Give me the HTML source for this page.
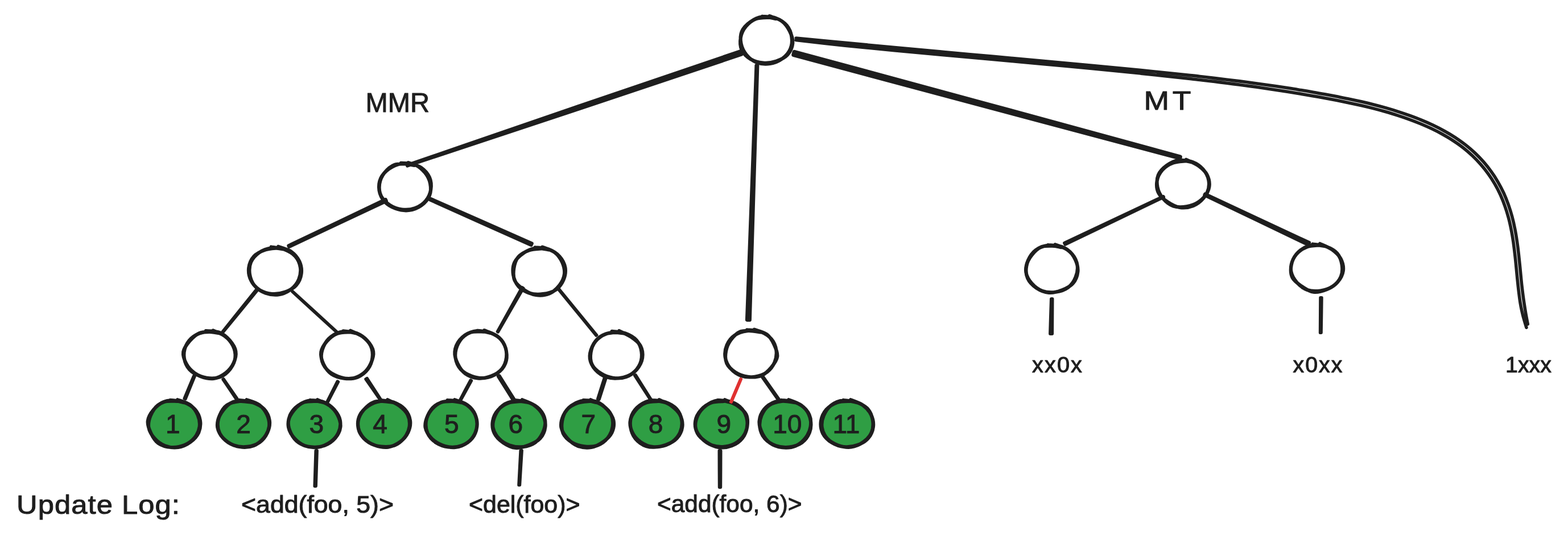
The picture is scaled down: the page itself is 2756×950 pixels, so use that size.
<!DOCTYPE html>
<html lang="en">
<head>
<meta charset="utf-8">
<title>MMR / MT update log diagram</title>
<style>
html,body{margin:0;padding:0;background:#fff;}
body{width:2756px;height:950px;}
svg{display:block;}
text{font-family:"Liberation Sans",sans-serif;fill:#1e1e1e;stroke:#1e1e1e;stroke-width:1px;stroke-linejoin:round;paint-order:stroke fill;}
svg{will-change:transform;}
</style>
</head>
<body>
<svg width="2756" height="950" viewBox="0 0 2756 950">
<rect width="2756" height="950" fill="#ffffff"/>
<polygon points="1301.3,89.9 1008.2,189.6 715.4,290.4 715.9,291.8 1009.8,194.4 1303.4,95.9" fill="#1e1e1e" stroke="#1e1e1e" stroke-width="5.6" stroke-linejoin="round"/>
<polygon points="1329.6,115.2 1321.4,338.9 1313.1,562.7 1317.7,562.9 1324.4,339.1 1331.2,115.2" fill="#1e1e1e" stroke="#1e1e1e" stroke-width="6.4" stroke-linejoin="round"/>
<polygon points="1395,96.4 1734.2,187.4 2073.6,277.9 2074.1,276.1 1735.3,183.6 1396.3,91.6" fill="#1e1e1e" stroke="#1e1e1e" stroke-width="7.6" stroke-linejoin="round"/>
<path d="M1398.9 70.5C1413.3 72.1 1456.5 77.1 1485.3 80.1C1514.1 83.1 1543 85.9 1571.9 88.7C1600.7 91.5 1629.6 94.1 1658.5 96.7C1687.4 99.4 1716.3 101.9 1745.1 104.5C1774 107.2 1802.9 109.7 1831.8 112.4C1860.7 115.1 1889.5 117.7 1918.4 120.5C1947.3 123.3 1976.1 126.2 2004.9 129.1C2033.8 132.1 2073.4 136.5 2091.4 138.5C2109.4 140.4 2105.8 140.1 2113 141C2120.3 141.8 2127.5 142.7 2134.7 143.5C2141.9 144.4 2149.1 145.3 2156.3 146.2C2163.5 147.1 2170.7 148.1 2177.9 149C2185.1 150 2192.3 150.9 2199.5 151.9C2206.7 152.9 2213.8 153.9 2221 155C2228.2 156 2235.4 157.1 2242.6 158.2C2249.7 159.3 2256.9 160.4 2264.1 161.5C2271.2 162.7 2278.4 163.8 2285.5 165C2292.7 166.2 2299.8 167.4 2307 168.7C2314.1 170 2321.3 171.2 2328.4 172.5C2335.5 173.9 2342.7 175.2 2349.8 176.6C2356.9 178 2364 179.4 2371.1 180.9C2378.2 182.4 2385.3 183.9 2392.4 185.5C2399.4 187.1 2406.5 188.8 2413.5 190.6C2420.5 192.4 2427.5 194.3 2434.4 196.3C2441.4 198.3 2448.3 200.3 2455.2 202.6C2462.1 204.8 2469 207.1 2475.8 209.6C2482.7 212.1 2489.5 214.7 2496.2 217.5C2502.9 220.3 2509.6 223.2 2516.2 226.3C2522.7 229.4 2529.2 232.7 2535.5 236.2C2541.8 239.7 2548.1 243.4 2554 247.4C2560 251.3 2565.9 255.4 2571.5 259.8C2577.1 264.2 2582.5 268.9 2587.7 273.7C2592.9 278.6 2597.8 283.8 2602.5 289.1C2607.2 294.4 2611.6 300 2615.8 305.8C2619.9 311.5 2623.8 317.5 2627.3 323.6C2630.9 329.7 2634.1 336.1 2637.1 342.5C2640 349 2642.7 355.6 2645 362.4C2647.4 369.1 2649.5 376 2651.4 383C2653.3 389.9 2654.8 397 2656.2 404.1C2657.7 411.2 2658.8 418.3 2659.9 425.6C2660.9 432.8 2661.8 440 2662.6 447.3C2663.5 454.6 2664.2 461.9 2664.9 469.2C2665.6 476.5 2666.3 483.8 2667 491.1C2667.8 498.4 2668.5 505.7 2669.4 512.9C2670.3 520.1 2671.1 527.4 2672.4 534.5C2673.6 541.7 2675.2 548.7 2676.9 555.7C2678.7 562.6 2681.9 572.8 2682.9 576.2 M1399.2 67.1C1413.6 68.5 1456.9 72.7 1485.8 75.4C1514.6 78.2 1543.5 80.9 1572.4 83.5C1601.2 86.2 1630.1 88.9 1659 91.5C1687.9 94.2 1716.7 96.7 1745.6 99.4C1774.5 102 1803.4 104.6 1832.3 107.2C1861.1 109.9 1890 112.5 1918.9 115.3C1947.8 118 1976.6 120.7 2005.5 123.6C2034.4 126.5 2074 130.7 2092 132.6C2110.1 134.5 2106.5 134.2 2113.7 135C2120.9 135.9 2128.2 136.7 2135.4 137.6C2142.6 138.4 2149.8 139.3 2157 140.2C2164.3 141.1 2171.5 142 2178.7 142.9C2185.9 143.8 2193.1 144.8 2200.3 145.7C2207.5 146.7 2214.7 147.7 2221.9 148.7C2229.1 149.7 2236.3 150.8 2243.5 151.8C2250.7 152.9 2257.9 154 2265.1 155.1C2272.3 156.2 2279.4 157.4 2286.6 158.6C2293.8 159.7 2301 160.9 2308.1 162.2C2315.3 163.4 2322.5 164.7 2329.6 166C2336.8 167.4 2343.9 168.7 2351.1 170.1C2358.2 171.5 2365.4 172.9 2372.5 174.4C2379.6 175.9 2386.7 177.5 2393.8 179.1C2400.9 180.7 2408 182.4 2415.1 184.2C2422.2 186 2429.2 187.9 2436.3 189.9C2443.3 191.9 2450.3 194 2457.3 196.3C2464.2 198.5 2471.2 200.9 2478.1 203.4C2485 205.9 2491.9 208.5 2498.7 211.4C2505.6 214.2 2512.4 217.2 2519 220.3C2525.7 223.5 2532.3 226.9 2538.7 230.5C2545.2 234 2551.5 237.8 2557.7 241.8C2563.8 245.9 2569.8 250.1 2575.6 254.6C2581.3 259.1 2586.9 263.9 2592.2 268.9C2597.6 274 2602.7 279.3 2607.5 284.7C2612.3 290.2 2616.9 296 2621.1 301.9C2625.4 307.8 2629.4 314 2633 320.3C2636.7 326.6 2640 333.1 2643.1 339.8C2646.1 346.4 2648.8 353.3 2651.3 360.2C2653.7 367.1 2655.9 374.2 2657.8 381.3C2659.7 388.4 2661.3 395.6 2662.7 402.8C2664.2 410 2665.3 417.3 2666.4 424.6C2667.5 431.9 2668.4 439.2 2669.2 446.5C2670 453.9 2670.7 461.2 2671.5 468.5C2672.2 475.8 2672.9 483.1 2673.6 490.4C2674.3 497.7 2675.1 504.9 2676 512.1C2676.8 519.3 2677.9 526.4 2678.9 533.5C2680 540.5 2681.2 548.4 2682.3 554.5C2683.4 560.6 2684.8 567.6 2685.3 570.2" fill="none" stroke="#1e1e1e" stroke-width="5.6" stroke-linecap="round" stroke-linejoin="round"/>
<polygon points="677.6,351.2 592.5,391.8 507.5,432.4 508.2,433.9 593.5,393.7 678.7,353.5" fill="#1e1e1e" stroke="#1e1e1e" stroke-width="6.4" stroke-linejoin="round"/>
<polygon points="755.6,351 844.6,391 933.5,430.9 934.6,428.5 845.4,389 756.2,349.6" fill="#1e1e1e" stroke="#1e1e1e" stroke-width="6.4" stroke-linejoin="round"/>
<polygon points="451.5,508.3 421.3,545.9 391.1,583.6 392.1,584.4 422.7,547.1 453.3,509.7" fill="#1e1e1e" stroke="#1e1e1e" stroke-width="5.2" stroke-linejoin="round"/>
<polygon points="513.4,513.1 552.6,548.9 591.8,584.8 592.6,583.9 553.4,548.1 514.2,512.2" fill="#1e1e1e" stroke="#1e1e1e" stroke-width="4.8" stroke-linejoin="round"/>
<polygon points="917.5,505.6 895.9,544.5 874.2,583.4 875.3,584.1 897.6,545.5 919.9,507" fill="#1e1e1e" stroke="#1e1e1e" stroke-width="5.2" stroke-linejoin="round"/>
<polygon points="980.1,507.4 1014,548.9 1047.9,590.4 1048.9,589.6 1015,548.1 981.1,506.6" fill="#1e1e1e" stroke="#1e1e1e" stroke-width="5" stroke-linejoin="round"/>
<polygon points="340.8,661.3 332.5,681.2 324.2,701 325.9,701.8 334,681.8 342.1,661.9" fill="#1e1e1e" stroke="#1e1e1e" stroke-width="5.6" stroke-linejoin="round"/>
<polygon points="391.9,667.5 403.6,684.9 415.3,702.4 416.8,701.3 404.9,684.1 393,666.8" fill="#1e1e1e" stroke="#1e1e1e" stroke-width="5.2" stroke-linejoin="round"/>
<polygon points="593,670.9 583.8,689.1 574.6,707.4 575.8,708 585.2,689.9 594.6,671.7" fill="#1e1e1e" stroke="#1e1e1e" stroke-width="5.2" stroke-linejoin="round"/>
<polygon points="642.8,666.9 655.4,685.1 668,703.2 669.1,702.5 657.1,683.9 645.1,665.4" fill="#1e1e1e" stroke="#1e1e1e" stroke-width="5.2" stroke-linejoin="round"/>
<polygon points="827,668.9 817.8,686.1 808.7,703.4 809.8,704 819.2,686.9 828.6,669.7" fill="#1e1e1e" stroke="#1e1e1e" stroke-width="5.2" stroke-linejoin="round"/>
<polygon points="876,662.1 888.8,682.4 901.6,702.7 903,701.9 890.2,681.6 877.4,661.3" fill="#1e1e1e" stroke="#1e1e1e" stroke-width="6.4" stroke-linejoin="round"/>
<polygon points="1063.3,663.8 1057.2,682.8 1051.2,701.7 1052.7,702.2 1058.8,683.2 1064.8,664.3" fill="#1e1e1e" stroke="#1e1e1e" stroke-width="6.4" stroke-linejoin="round"/>
<polygon points="1115.6,660.7 1129.3,681.9 1143.1,703.2 1144.1,702.5 1130.7,681.1 1117.2,659.7" fill="#1e1e1e" stroke="#1e1e1e" stroke-width="5.2" stroke-linejoin="round"/>
<polygon points="1340,663.7 1353.9,683.4 1367.8,703.1 1369,702.3 1355.1,682.6 1341.2,662.9" fill="#1e1e1e" stroke="#1e1e1e" stroke-width="5.6" stroke-linejoin="round"/>
<polygon points="555.4,793 554.4,824 553.4,855 554.9,855 555.9,824 556.9,793" fill="#1e1e1e" stroke="#1e1e1e" stroke-width="6" stroke-linejoin="round"/>
<polygon points="915.2,792.7 913.6,823 912,853.2 913.4,853.2 915.2,823 917.1,792.8" fill="#1e1e1e" stroke="#1e1e1e" stroke-width="5.6" stroke-linejoin="round"/>
<polygon points="1264.5,793 1264.6,825 1264.8,857 1266.2,857 1266.4,825 1266.5,793" fill="#1e1e1e" stroke="#1e1e1e" stroke-width="6" stroke-linejoin="round"/>
<polygon points="2044.7,345.6 1957.8,386.5 1870.9,427.5 1872.2,430.1 1958.7,388.5 2045.3,346.8" fill="#1e1e1e" stroke="#1e1e1e" stroke-width="5.6" stroke-linejoin="round"/>
<polygon points="2117.5,343.1 2208.4,386.7 2299.3,430.3 2300.9,427 2209.6,384.3 2118.2,341.6" fill="#1e1e1e" stroke="#1e1e1e" stroke-width="6.4" stroke-linejoin="round"/>
<polygon points="1848,526 1847,556.5 1846.1,587 1849.1,587 1849.3,556.5 1849.5,526" fill="#1e1e1e" stroke="#1e1e1e" stroke-width="6" stroke-linejoin="round"/>
<polygon points="2321,523.8 2320.8,554.5 2320.6,585.2 2322,585.2 2322.5,554.5 2322.9,523.8" fill="#1e1e1e" stroke="#1e1e1e" stroke-width="5.6" stroke-linejoin="round"/>
<path d="M1339.8 28.9C1343.8 29.4 1356.6 29.2 1363.7 31.8C1370.9 34.5 1378.3 39.3 1382.9 44.8C1387.5 50.3 1390.4 58 1391.4 64.8C1392.5 71.7 1391.9 79.6 1389.2 86C1386.5 92.4 1381.1 98.8 1375.2 103.1C1369.2 107.5 1361.2 110.9 1353.6 112C1346.1 113.2 1336.9 112.5 1329.9 109.9C1322.9 107.2 1316.3 101.6 1311.8 96.1C1307.2 90.6 1304 83.7 1302.6 76.9C1301.3 70.1 1301.1 61.9 1303.7 55.6C1306.4 49.2 1312.4 43 1318.5 38.7C1324.5 34.4 1332.5 30.5 1339.9 29.6C1347.4 28.6 1359.4 32.4 1363.3 33M1352.5 28.2C1356.2 29.8 1368.6 32.9 1374.6 37.4C1380.5 41.8 1384.9 48.6 1388.1 55C1391.2 61.4 1394 69.1 1393.3 76C1392.7 82.9 1389 91.1 1384.2 96.4C1379.3 101.7 1371.3 105.3 1364.2 107.7C1357 110.1 1348.9 111.2 1341.5 110.6C1334 110 1325.6 107.8 1319.3 104C1313 100.2 1306.6 93.9 1303.7 87.6C1300.8 81.2 1300.7 72.8 1301.9 66C1303.1 59.1 1306.5 52 1311 46.6C1315.5 41.1 1322.1 35.7 1329 33.1C1335.9 30.5 1348.3 31.1 1352.2 30.7" fill="none" stroke="#1e1e1e" stroke-width="6.2" stroke-linejoin="round" stroke-linecap="round"/>
<path d="M704.8 286.8C708.8 287.3 721.8 286.7 728.8 289.5C735.8 292.3 742.2 298.1 746.8 303.6C751.3 309.1 754.7 316 756.1 322.8C757.4 329.5 757.5 337.7 754.9 344.1C752.3 350.6 746.5 357.2 740.5 361.5C734.5 365.8 726.2 369.1 718.6 370C711.1 370.9 702.4 369.4 695.3 366.9C688.2 364.3 680.8 360 676 354.7C671.2 349.3 667.6 341.8 666.5 335C665.4 328.1 666.3 320 669.2 313.6C672.1 307.3 677.8 301.3 683.8 297C689.8 292.8 697.6 289.1 705 288.1C712.5 287.1 724.4 290.4 728.3 290.9M717.5 286.1C721.3 287.6 733.8 290.3 740 294.7C746.3 299 752 305.6 754.9 312.1C757.8 318.6 758.3 326.9 757.2 333.8C756.1 340.7 752.8 348.1 748.1 353.5C743.5 358.9 736.4 363.7 729.4 366.2C722.5 368.7 713.8 369.4 706.5 368.5C699.1 367.6 691.3 364.7 685.2 360.8C679.1 356.8 673 351.1 669.9 345C666.9 338.8 666.1 330.7 667 323.9C668 317.1 671.2 309.9 675.6 304.2C680 298.5 686.6 292.4 693.5 289.8C700.4 287.2 713.2 288.8 717.2 288.6" fill="none" stroke="#1e1e1e" stroke-width="6.2" stroke-linejoin="round" stroke-linecap="round"/>
<path d="M2072.1 281.4C2076.1 282 2088.7 282.1 2095.8 284.9C2102.9 287.6 2109.8 292.4 2114.6 297.8C2119.3 303.2 2123.2 310.4 2124.4 317.2C2125.6 324 2124.7 332.3 2121.8 338.6C2118.9 344.9 2113 350.9 2107 355C2101 359.2 2093.2 362.1 2085.7 363.3C2078.3 364.5 2069.2 364.9 2062.2 362.5C2055.2 360 2048.4 354.3 2043.8 348.8C2039.2 343.3 2035.9 336.3 2034.5 329.5C2033.2 322.6 2033.1 314.3 2035.8 307.9C2038.5 301.6 2044.6 295.5 2050.7 291.1C2056.8 286.8 2064.7 282.8 2072.2 281.9C2079.7 281 2091.7 284.9 2095.6 285.5M2084.8 280.7C2088.3 282.5 2099.8 286.8 2105.9 291.2C2112 295.6 2118.2 300.8 2121.4 307.1C2124.6 313.3 2126.4 321.6 2125.4 328.5C2124.4 335.4 2120.3 342.7 2115.6 348.2C2110.9 353.8 2104.2 359.2 2097.2 362C2090.2 364.8 2081 366 2073.5 364.9C2066.1 363.8 2058.6 359.6 2052.4 355.4C2046.3 351.3 2039.6 346 2036.5 339.9C2033.3 333.7 2032.5 325.2 2033.6 318.4C2034.7 311.6 2038.4 304.2 2043.1 298.9C2047.8 293.6 2054.8 289.2 2061.7 286.6C2068.6 284 2080.7 283.8 2084.5 283.2" fill="none" stroke="#1e1e1e" stroke-width="6.2" stroke-linejoin="round" stroke-linecap="round"/>
<path d="M476.5 434.5C480.4 435.2 492.8 436.1 499.9 438.8C507 441.5 514.3 445.6 519 450.9C523.7 456.2 526.9 463.7 527.9 470.5C528.9 477.2 527.8 484.9 525.2 491.3C522.5 497.7 517.6 504.2 511.8 508.6C506 513.1 497.9 517 490.4 518.2C482.9 519.3 473.8 518.1 466.6 515.5C459.4 512.9 452 508 447.4 502.6C442.8 497.1 440 489.4 438.9 482.6C437.9 475.7 438.3 467.7 441 461.4C443.7 455 449.4 448.7 455.4 444.5C461.3 440.4 469.4 437.3 476.8 436.3C484.3 435.3 496.1 438.2 500 438.6M489.2 433.8C492.9 435.3 505.4 438.2 511.6 442.5C517.8 446.9 523.3 453.4 526.3 459.9C529.3 466.5 530.6 474.6 529.6 481.6C528.7 488.6 525.4 496.5 520.6 501.8C515.9 507.2 508.1 511.2 501 513.7C493.9 516.2 485.6 517.6 478.1 517C470.5 516.3 462.1 513.8 455.9 509.8C449.7 505.8 444.1 499.3 441 492.9C437.8 486.5 436.4 478.4 437.2 471.4C438.1 464.4 441.4 456.4 446.2 451.1C451 445.7 459 442 466.1 439.6C473.2 437.1 485.1 436.9 488.9 436.3" fill="none" stroke="#1e1e1e" stroke-width="6.2" stroke-linejoin="round" stroke-linecap="round"/>
<path d="M940.5 435.3C944.5 435.8 957.2 435.8 964.3 438.4C971.5 441.1 978.8 445.8 983.6 451.2C988.5 456.6 992.3 464.1 993.5 471C994.6 477.9 993.2 486 990.4 492.6C987.5 499.1 982.5 506.1 976.4 510.2C970.4 514.4 961.7 516.3 954.1 517.2C946.5 518.1 938 518 930.8 515.7C923.7 513.4 915.9 508.9 911.2 503.6C906.4 498.2 903.3 490.4 902.1 483.5C901 476.5 901.4 468.2 904.3 461.9C907.2 455.6 913.5 449.8 919.6 445.6C925.6 441.4 933.3 437.5 940.7 436.5C948.1 435.5 960.1 438.9 964 439.4M953.2 434.6C956.8 436.2 969.2 439.6 975 444.1C980.9 448.6 985.4 455.3 988.2 461.6C991 468 992.8 475.5 992 482.2C991.2 488.9 987.8 496 983.5 501.7C979.1 507.4 972.8 513.5 965.8 516.4C958.9 519.3 949.4 520.2 941.9 519C934.4 517.9 926.9 513.8 920.7 509.6C914.5 505.4 907.7 500 904.8 493.8C901.9 487.6 902.2 479.4 903.2 472.4C904.2 465.5 906.3 457.7 910.8 452.3C915.2 446.9 923 442.8 930 440.3C937.1 437.7 949.1 437.7 952.9 437.1" fill="none" stroke="#1e1e1e" stroke-width="6.2" stroke-linejoin="round" stroke-linecap="round"/>
<path d="M1842 431C1846 431.5 1858.8 431.3 1865.9 434C1873 436.7 1880 441.8 1884.6 447.3C1889.3 452.8 1892.6 460.2 1893.6 466.9C1894.6 473.7 1893.2 481.3 1890.5 487.7C1887.9 494.2 1883.4 501.2 1877.6 505.5C1871.8 509.9 1863.3 512.7 1855.8 513.8C1848.2 514.8 1839.2 514.4 1832.1 511.9C1825.1 509.4 1818.3 504 1813.5 498.6C1808.7 493.1 1804.5 486 1803.4 479.2C1802.3 472.5 1804.2 464.6 1807 458.1C1809.8 451.6 1814.4 444.6 1820.2 440.2C1826.1 435.8 1834.6 432.6 1842.2 431.7C1849.7 430.9 1861.6 434.5 1865.5 435.1M1854.7 430.3C1858.4 431.9 1870.8 435.1 1876.7 439.6C1882.6 444 1887.2 450.7 1890.2 457.1C1893.1 463.6 1895.1 471.1 1894.4 478C1893.7 484.9 1890.8 492.9 1886.1 498.3C1881.5 503.7 1873.7 507.6 1866.6 510.4C1859.5 513.1 1851 515.5 1843.4 514.8C1835.8 514.2 1827.5 510.6 1821.3 506.4C1815.1 502.2 1809 496 1806.2 489.6C1803.3 483.2 1803 474.9 1804.2 468.1C1805.4 461.3 1809 454.5 1813.5 448.9C1817.9 443.2 1824 436.9 1830.8 434.2C1837.6 431.6 1850.5 433.1 1854.4 432.8" fill="none" stroke="#1e1e1e" stroke-width="6.2" stroke-linejoin="round" stroke-linecap="round"/>
<path d="M2307.3 429.5C2311.2 430.2 2323.6 431 2330.7 433.7C2337.9 436.4 2345.6 440.3 2350.2 445.6C2354.8 450.9 2357.5 458.6 2358.6 465.5C2359.7 472.3 2359.5 480.3 2356.8 486.6C2354.1 493 2348.5 499.5 2342.6 503.6C2336.6 507.7 2328.4 510.4 2320.9 511.5C2313.5 512.5 2304.6 512.4 2297.6 510C2290.7 507.5 2284.1 502.1 2279.3 496.7C2274.6 491.3 2270.5 484.3 2269.3 477.6C2268.2 471 2269.8 463 2272.6 456.7C2275.5 450.4 2280.6 444.1 2286.4 439.8C2292.2 435.5 2300.1 431.8 2307.5 430.8C2314.9 429.8 2326.9 433.1 2330.8 433.6M2320 428.8C2323.5 430.5 2335.1 434.7 2341.2 439.1C2347.3 443.5 2353.3 448.9 2356.6 455.2C2359.8 461.4 2361.8 469.7 2360.8 476.6C2359.9 483.5 2355.7 491 2350.9 496.4C2346.1 501.9 2339.1 506.3 2332.1 509.2C2325 512.1 2316 514.8 2308.6 513.8C2301.2 512.9 2293.9 507.8 2287.7 503.5C2281.5 499.2 2274.4 494.2 2271.4 488.1C2268.4 481.9 2268.4 473.4 2269.6 466.6C2270.8 459.8 2274.1 452.6 2278.6 447.3C2283.2 441.9 2290 437.1 2296.8 434.5C2303.7 431.8 2315.9 431.9 2319.7 431.3" fill="none" stroke="#1e1e1e" stroke-width="6.2" stroke-linejoin="round" stroke-linecap="round"/>
<path d="M361.8 582.1C365.8 582.5 378.8 582 385.8 584.8C392.8 587.6 399.1 593.3 403.9 598.8C408.6 604.3 413.2 611.2 414.3 617.9C415.4 624.6 413.4 632.6 410.5 638.9C407.6 645.3 402.7 651.5 396.9 656C391.1 660.5 383.2 664.9 375.7 665.9C368.3 666.9 359.5 664.7 352.3 662C345.2 659.4 337.7 655.3 332.9 650C328.2 644.7 324.9 637.1 323.8 630.2C322.7 623.4 323.7 615.4 326.4 609C329.2 602.6 334.4 596 340.4 591.8C346.3 587.6 354.6 584.8 362.1 583.9C369.6 582.9 381.4 585.8 385.3 586.2M374.5 581.4C378 583.1 389.9 587.2 395.7 591.7C401.6 596.2 406.6 602.2 409.5 608.4C412.5 614.7 414.2 622.3 413.4 629C412.7 635.7 409.4 643.1 405 648.8C400.7 654.4 394.1 660.5 387.1 663.1C380.2 665.8 370.9 665.9 363.3 664.8C355.8 663.6 348 660.4 342.1 656.3C336.1 652.1 330.8 646.2 327.5 640C324.2 633.8 321.2 625.6 322.2 619C323.1 612.3 328.6 605.6 333.3 600C338.1 594.5 344 588.5 350.8 585.8C357.6 583.1 370.3 584.2 374.2 583.9" fill="none" stroke="#1e1e1e" stroke-width="6.2" stroke-linejoin="round" stroke-linecap="round"/>
<path d="M603.3 582.4C607.3 583 619.9 583.4 626.9 586.2C633.9 589 640.5 593.8 645.4 599.1C650.3 604.4 655 611.5 656.1 618.2C657.2 624.8 654.7 632.7 651.8 639.2C648.9 645.6 644.5 652.2 638.7 656.7C632.9 661.2 624.7 665.1 617.2 666C609.7 666.9 601 664.7 593.9 662.1C586.8 659.4 579.4 655.5 574.6 650.2C569.7 645 566 637.3 565 630.6C564 623.8 565.9 616 568.7 609.6C571.5 603.2 576.2 596.7 582 592.3C587.8 587.9 596 584.1 603.5 583.2C610.9 582.2 622.9 586 626.8 586.5M616 581.7C619.5 583.5 631.2 587.7 637.1 592.1C643 596.6 648.7 602.3 651.6 608.5C654.5 614.7 655.3 622.5 654.5 629.2C653.7 636 651.1 643.5 646.8 649.2C642.5 654.9 635.6 660.7 628.6 663.5C621.6 666.2 612.5 666.6 604.8 665.7C597.1 664.7 588.5 662.2 582.4 658C576.4 653.8 571.7 646.9 568.6 640.5C565.6 634 563.3 626 564.3 619.3C565.4 612.6 570 605.7 574.7 600.3C579.5 594.9 585.8 589.6 592.7 586.9C599.5 584.3 611.9 584.7 615.7 584.2" fill="none" stroke="#1e1e1e" stroke-width="6.2" stroke-linejoin="round" stroke-linecap="round"/>
<path d="M838.4 581.8C842.4 582.4 854.9 582.8 862 585.5C869.1 588.2 876.5 592.6 881.2 598C885.8 603.3 888.7 610.9 889.9 617.7C891.1 624.6 891 632.7 888.4 639.1C885.8 645.6 880.2 652.3 874.2 656.6C868.2 660.9 859.8 664.1 852.2 664.9C844.7 665.8 836.1 664.2 829 661.6C821.9 659.1 814.4 654.9 809.7 649.6C805 644.3 801.7 636.7 800.6 629.9C799.6 623.1 800.8 615.4 803.4 608.9C806 602.4 810.6 595.3 816.4 590.8C822.3 586.3 830.9 582.8 838.5 582C846 581.2 858 585.3 861.9 585.9M851.1 581.1C854.7 582.7 867 586.1 873 590.6C879 595 884.2 601.4 887 607.7C889.9 614.1 890.9 621.8 890.1 628.7C889.3 635.6 886.7 643.4 882.2 648.9C877.8 654.4 870.3 658.9 863.2 661.7C856.2 664.4 847.4 666.1 839.8 665.3C832.3 664.6 823.6 661.5 817.7 657.2C811.8 652.9 807.5 646 804.4 639.6C801.3 633.2 798.8 625.6 799.4 618.7C800 611.8 803.3 603.9 807.9 598.2C812.5 592.5 819.9 587 827 584.6C834.2 582.2 846.8 583.8 850.8 583.6" fill="none" stroke="#1e1e1e" stroke-width="6.2" stroke-linejoin="round" stroke-linecap="round"/>
<path d="M1075.5 582.8C1079.5 583.4 1092 583.6 1099.2 586.3C1106.4 588.9 1114.1 593.1 1118.8 598.5C1123.5 603.9 1126.5 611.8 1127.5 618.7C1128.6 625.6 1127.7 633.5 1125 639.9C1122.2 646.3 1117 653 1111 657.2C1105.1 661.4 1096.7 664 1089.2 665C1081.7 666 1072.9 665.6 1065.8 663.3C1058.7 660.9 1051.5 656.1 1046.6 650.7C1041.8 645.3 1037.8 637.8 1036.8 631C1035.9 624.2 1037.9 616.4 1040.8 610C1043.7 603.6 1048.5 597 1054.3 592.8C1060.2 588.6 1068.4 585.7 1075.8 584.8C1083.3 583.8 1095.1 586.5 1099 586.9M1088.2 582.1C1091.7 583.9 1102.9 588.5 1109.1 592.8C1115.4 597.1 1122.4 601.9 1125.7 608.1C1129 614.3 1130.1 623 1129.1 629.9C1128 636.9 1124.1 644.3 1119.3 649.9C1114.5 655.4 1107.5 660.6 1100.5 663.1C1093.5 665.6 1084.6 665.9 1077.1 664.8C1069.7 663.8 1062 660.7 1055.9 656.7C1049.8 652.8 1043.4 647.1 1040.5 641C1037.6 634.9 1037.4 626.7 1038.5 620C1039.5 613.2 1042.3 605.9 1046.7 600.5C1051.1 595.1 1058 590.1 1064.9 587.5C1071.8 584.8 1084.1 585.1 1087.9 584.6" fill="none" stroke="#1e1e1e" stroke-width="6.2" stroke-linejoin="round" stroke-linecap="round"/>
<path d="M1313 580.3C1317 580.8 1329.6 580.9 1336.8 583.6C1343.9 586.3 1351.3 590.9 1355.9 596.4C1360.5 601.8 1363.5 609.5 1364.4 616.3C1365.3 623 1364.2 630.7 1361.5 637.1C1358.9 643.4 1354.1 650.1 1348.3 654.4C1342.5 658.7 1334.2 661.6 1326.7 662.7C1319.2 663.9 1310.2 663.7 1303.1 661.3C1296 658.9 1288.8 653.7 1284 648.3C1279.3 642.8 1275.8 635.3 1274.7 628.5C1273.6 621.6 1274.7 613.6 1277.5 607.2C1280.2 600.7 1285.4 593.9 1291.4 589.8C1297.4 585.6 1305.8 583 1313.3 582.1C1320.8 581.3 1332.6 584 1336.5 584.4M1325.7 579.6C1329.4 581.1 1342.2 583.9 1348.1 588.4C1353.9 592.9 1357.8 600.1 1360.8 606.6C1363.8 613.1 1367 620.8 1366.2 627.4C1365.3 634 1360.2 640.8 1355.5 646.4C1350.8 652 1344.9 658 1338.1 660.8C1331.3 663.5 1322.1 663.8 1314.6 662.8C1307 661.9 1299 659.1 1292.8 655.1C1286.5 651.1 1280 645.1 1277.2 638.9C1274.4 632.6 1274.8 624.3 1276.1 617.5C1277.3 610.7 1280.3 603.9 1284.5 598.2C1288.8 592.5 1294.9 585.9 1301.7 583.2C1308.5 580.6 1321.4 582.3 1325.4 582.1" fill="none" stroke="#1e1e1e" stroke-width="6.2" stroke-linejoin="round" stroke-linecap="round"/>
<ellipse cx="306.3" cy="745.8" rx="45.6" ry="41.1" fill="#2f9e44"/>
<path d="M299.3 704C303.3 704.6 315.8 705 322.9 707.6C330.1 710.3 337.6 714.5 342.4 719.9C347.2 725.2 350.7 732.8 351.8 739.6C352.9 746.5 352 754.6 349.2 761C346.3 767.4 340.6 773.5 334.6 777.8C328.6 782.2 320.7 786 313.2 787C305.7 788.1 296.6 786.8 289.6 784.1C282.6 781.4 276 776.3 271.3 770.9C266.6 765.5 262.4 758.5 261.3 751.9C260.2 745.3 262 737.6 264.7 731.1C267.4 724.6 271.6 717.5 277.4 713C283.1 708.5 291.8 705.1 299.4 704.3C307 703.5 318.9 707.5 322.8 708.1M312 703.3C315.7 704.8 328.2 707.9 334.1 712.3C340.1 716.8 344.7 723.6 347.5 730C350.2 736.4 351.6 744 350.7 750.6C349.8 757.3 346.5 764.5 342.1 770C337.6 775.4 330.9 780.4 324 783.2C317.1 786 308.4 787.5 300.8 787C293.1 786.4 284.1 783.9 278.1 779.7C272.2 775.5 268.2 768.1 265.1 761.6C262 755.1 259 747.5 259.8 740.7C260.5 733.9 265 726.6 269.7 721C274.4 715.4 281 709.5 288 707C295 704.4 307.7 706 311.7 705.8" fill="none" stroke="#1e1e1e" stroke-width="6.2" stroke-linejoin="round" stroke-linecap="round"/>
<ellipse cx="427.8" cy="745.8" rx="45.6" ry="41.1" fill="#2f9e44"/>
<path d="M420.8 704C424.7 704.7 437 705.5 444.3 708.1C451.5 710.7 459.3 714.4 464.2 719.6C469.1 724.9 472.7 732.7 473.7 739.6C474.7 746.4 473.1 754.4 470.2 760.8C467.3 767.2 462.4 774 456.4 778.2C450.5 782.4 442 785 434.5 785.9C427 786.8 418.3 786 411.3 783.5C404.3 781.1 397.3 776.4 392.5 771.2C387.6 765.9 383.4 758.7 382.3 752C381.2 745.3 383.1 737.5 385.9 731C388.6 724.5 392.9 717.1 398.8 712.9C404.7 708.8 413.6 706.8 421.1 706C428.7 705.2 440.4 707.7 444.3 708.1M433.5 703.3C437.2 704.8 449.7 707.9 455.6 712.3C461.6 716.8 466.5 723.4 469.4 729.8C472.3 736.2 473.9 744 473 750.7C472.1 757.5 468.4 764.7 463.9 770.2C459.3 775.7 452.7 781.3 445.8 784C438.9 786.7 429.8 787.3 422.3 786.3C414.8 785.3 406.9 782.1 400.9 778C394.8 773.9 389 768 386 761.8C383.1 755.7 382 747.6 383.1 740.9C384.1 734.2 387.8 727.4 392.2 721.8C396.6 716.1 402.7 709.8 409.6 707.2C416.4 704.5 429.3 706.1 433.2 705.8" fill="none" stroke="#1e1e1e" stroke-width="6.2" stroke-linejoin="round" stroke-linecap="round"/>
<ellipse cx="552.3" cy="745.8" rx="45.6" ry="41.1" fill="#2f9e44"/>
<path d="M545.3 704C549.3 704.6 562 704.6 569.1 707.3C576.1 710.1 582.7 715.2 587.5 720.6C592.2 726 596.6 732.9 597.8 739.6C599.1 746.3 597.8 754.6 594.9 760.9C592.1 767.3 586.5 773.5 580.6 777.8C574.6 782.1 566.6 785.6 559.1 786.7C551.6 787.7 542.5 786.8 535.6 784.2C528.6 781.5 522.1 776.2 517.3 770.9C512.6 765.5 508.4 758.6 507.1 751.9C505.9 745.2 506.9 737.1 509.6 730.7C512.4 724.3 517.9 718 523.9 713.6C529.8 709.2 537.9 705.3 545.4 704.4C552.9 703.5 564.9 707.5 568.8 708.1M558 703.3C561.5 705 573.4 709.1 579.2 713.6C585.1 718 590.1 723.9 593.3 730.1C596.5 736.3 599.1 744.1 598.4 750.9C597.7 757.6 593.9 765.3 589.2 770.8C584.5 776.3 577.4 781.3 570.3 783.9C563.2 786.5 554.4 787.3 546.8 786.4C539.3 785.6 530.9 782.8 524.9 778.7C518.9 774.5 514.1 767.9 511.1 761.6C508.1 755.3 506 747.5 506.9 740.8C507.9 734.2 512.1 727.2 516.6 721.7C521.2 716.2 527.4 710.3 534.3 707.7C541.1 705 553.8 706.1 557.7 705.8" fill="none" stroke="#1e1e1e" stroke-width="6.2" stroke-linejoin="round" stroke-linecap="round"/>
<ellipse cx="675.4" cy="745.8" rx="45.6" ry="41.1" fill="#2f9e44"/>
<path d="M668.4 704C672.4 704.6 684.9 705 692 707.6C699.2 710.3 706.6 714.6 711.4 719.9C716.2 725.3 720 732.8 720.9 739.6C721.9 746.4 720.3 754.3 717.3 760.6C714.4 766.9 709.2 773 703.3 777.3C697.4 781.6 689.6 785.6 682.2 786.6C674.8 787.7 666 785.9 659 783.4C651.9 780.8 644.8 776.5 639.9 771.3C635 766 630.8 758.8 629.6 752C628.3 745.2 629.3 736.8 632.3 730.5C635.3 724.2 641.4 718.3 647.4 714.2C653.5 710.2 661.3 707 668.7 706C676.1 704.9 688 707.7 691.9 708.1M681.1 703.3C684.6 705.1 696.1 709.6 702 714C707.9 718.4 713.7 723.9 716.6 730C719.6 736.1 720.5 744 719.6 750.6C718.6 757.3 715.4 764.4 711 769.9C706.6 775.4 700.1 781 693.3 783.7C686.5 786.3 677.5 786.6 670 785.7C662.5 784.9 654.4 782.4 648.2 778.5C642 774.5 636 768.4 632.8 762.2C629.7 755.9 628.5 747.6 629.5 740.8C630.6 734 634.5 726.8 639.1 721.3C643.8 715.7 650.3 709.8 657.2 707.3C664.2 704.7 676.9 706.1 680.8 705.8" fill="none" stroke="#1e1e1e" stroke-width="6.2" stroke-linejoin="round" stroke-linecap="round"/>
<ellipse cx="793.5" cy="745.8" rx="45.6" ry="41.1" fill="#2f9e44"/>
<path d="M786.5 704C790.5 704.5 803.3 704.2 810.4 706.9C817.6 709.5 824.9 714.4 829.5 719.9C834.1 725.4 837 733 838.1 739.8C839.1 746.6 838.3 754.3 835.6 760.7C833 767.1 828.1 773.9 822.2 778.3C816.3 782.7 807.9 786.2 800.4 787C792.9 787.9 784.2 785.8 777.2 783.2C770.2 780.5 763.3 776.2 758.3 771C753.4 765.8 748.7 758.7 747.6 752C746.5 745.4 748.9 737.5 751.8 731C754.6 724.6 759.1 717.7 764.9 713.4C770.7 709.2 779.3 706.4 786.8 705.5C794.3 704.6 806.1 707.7 810 708.1M799.2 703.3C802.8 704.9 815 708.3 821 712.8C827 717.2 832.3 723.5 835.2 729.8C838 736.1 839.1 743.9 838.3 750.7C837.5 757.5 834.7 765.2 830.2 770.7C825.8 776.2 818.5 781.3 811.5 783.9C804.5 786.6 795.6 787.2 788 786.3C780.5 785.5 772.3 782.6 766.2 778.6C760.1 774.5 754.3 768.2 751.5 762C748.6 755.7 747.9 747.6 748.9 740.9C750 734.2 753.3 727.2 757.8 721.6C762.2 716.1 768.7 710.4 775.5 707.8C782.4 705.2 795 706.2 798.9 705.8" fill="none" stroke="#1e1e1e" stroke-width="6.2" stroke-linejoin="round" stroke-linecap="round"/>
<ellipse cx="912.1" cy="745.8" rx="45.6" ry="41.1" fill="#2f9e44"/>
<path d="M905.1 704C909.1 704.6 921.5 705.2 928.7 707.8C935.8 710.5 943.3 714.5 948.2 719.8C953.1 725.1 957.1 732.7 958.1 739.6C959.1 746.4 957.1 754.2 954.2 760.7C951.3 767.2 946.7 774.1 940.8 778.4C935 782.6 926.4 785.3 918.8 786.1C911.3 787 902.7 785.9 895.7 783.4C888.6 781 881.5 776.5 876.7 771.2C871.8 766 867.6 758.7 866.5 752C865.5 745.3 867.5 737.5 870.3 731C873.1 724.6 877.6 717.7 883.5 713.4C889.3 709.1 897.9 706.3 905.4 705.4C912.9 704.6 924.7 707.7 928.6 708.1M917.8 703.3C921.4 705 933.3 708.8 939.3 713.2C945.3 717.6 950.8 723.5 953.9 729.7C957.1 736 959.2 744 958.4 750.9C957.7 757.8 954.3 765.9 949.5 771.2C944.7 776.5 936.9 780.1 929.7 782.9C922.5 785.7 914 788.6 906.4 788C898.9 787.3 890.8 783.2 884.5 778.9C878.3 774.7 872.1 768.8 869 762.4C865.9 756.1 864.8 747.6 866 740.7C867.1 733.8 870.8 726.4 875.6 721.1C880.3 715.7 887.5 711.2 894.5 708.6C901.5 706.1 913.7 706.3 917.5 705.8" fill="none" stroke="#1e1e1e" stroke-width="6.2" stroke-linejoin="round" stroke-linecap="round"/>
<ellipse cx="1032.4" cy="745.8" rx="45.6" ry="41.1" fill="#2f9e44"/>
<path d="M1025.4 704C1029.4 704.5 1042.4 704 1049.4 706.8C1056.3 709.6 1062.5 715.3 1067.3 720.8C1072.2 726.2 1077 732.8 1078.4 739.6C1079.7 746.3 1078.4 754.8 1075.4 761.1C1072.4 767.3 1066.3 772.9 1060.3 777.3C1054.2 781.6 1046.7 785.8 1039.3 787C1031.8 788.3 1022.5 787.3 1015.5 784.6C1008.5 781.9 1002.1 776.5 997.2 771C992.4 765.6 987.6 758.7 986.4 752C985.2 745.4 987.3 737.3 990.2 730.9C993.1 724.5 998.1 718.1 1004 713.7C1009.9 709.4 1018.1 705.8 1025.6 704.9C1033 703.9 1045 707.6 1048.9 708.1M1038.1 703.3C1041.7 705 1053.4 709 1059.4 713.4C1065.5 717.8 1071.4 723.5 1074.3 729.7C1077.2 735.9 1077.7 743.9 1076.7 750.6C1075.7 757.4 1072.8 764.6 1068.4 770.1C1064 775.6 1057.1 781 1050.3 783.6C1043.4 786.1 1034.5 786.3 1027 785.4C1019.5 784.5 1011.5 782.2 1005.3 778.3C999 774.5 992.5 768.5 989.6 762.3C986.8 756 986.9 747.8 988 741C989.1 734.1 991.6 726.5 996.1 721.2C1000.6 715.9 1008.1 711.7 1015 709.2C1022 706.6 1034 706.4 1037.8 705.8" fill="none" stroke="#1e1e1e" stroke-width="6.2" stroke-linejoin="round" stroke-linecap="round"/>
<ellipse cx="1152.9" cy="745.8" rx="45.6" ry="41.1" fill="#2f9e44"/>
<path d="M1145.9 704C1149.9 704.6 1162.4 704.8 1169.6 707.4C1176.9 710 1184.5 714.2 1189.3 719.6C1194.1 725 1197.3 732.8 1198.3 739.6C1199.3 746.5 1198.2 754.5 1195.3 760.8C1192.4 767.2 1187 773.5 1181.1 777.7C1175.1 781.8 1167.1 784.5 1159.6 785.7C1152 787 1143 787.3 1135.9 785C1128.7 782.6 1121.4 777.2 1116.8 771.7C1112.3 766.2 1109.4 758.7 1108.3 751.8C1107.2 745 1107.6 737.1 1110.3 730.7C1112.9 724.3 1118.3 717.7 1124.2 713.3C1130.2 708.9 1138.5 705.2 1146 704.4C1153.5 703.5 1165.5 707.5 1169.4 708.1M1158.6 703.3C1162.1 705.1 1173.7 709.3 1179.8 713.6C1185.8 718 1191.8 723.4 1195.1 729.6C1198.3 735.8 1200.2 744 1199.3 750.9C1198.5 757.8 1194.7 765.6 1189.9 770.9C1185.1 776.2 1177.5 780.1 1170.4 782.7C1163.3 785.2 1154.8 787.1 1147.4 786.2C1140.1 785.4 1132.2 781.8 1126.2 777.7C1120.3 773.6 1114.9 767.7 1111.8 761.5C1108.7 755.4 1106.8 747.5 1107.7 740.8C1108.6 734.2 1112.6 727.1 1117.2 721.7C1121.8 716.3 1128.4 711.2 1135.3 708.6C1142.1 705.9 1154.5 706.3 1158.3 705.8" fill="none" stroke="#1e1e1e" stroke-width="6.2" stroke-linejoin="round" stroke-linecap="round"/>
<ellipse cx="1268.3" cy="745.8" rx="45.6" ry="41.1" fill="#2f9e44"/>
<path d="M1261.3 704C1265.3 704.5 1278 704.3 1285.2 707C1292.4 709.6 1299.9 714.3 1304.5 719.7C1309.2 725.2 1312.2 732.9 1313.2 739.7C1314.1 746.5 1313.1 754.4 1310.3 760.7C1307.5 767 1302.2 773.3 1296.3 777.5C1290.4 781.6 1282.4 784.6 1275 785.6C1267.5 786.6 1258.8 786 1251.8 783.5C1244.9 781.1 1238 776.3 1233.1 771C1228.2 765.8 1223.6 758.7 1222.5 752C1221.4 745.3 1223.5 737.3 1226.4 731C1229.4 724.7 1234.4 718.6 1240.3 714.1C1246.1 709.7 1254 705.3 1261.4 704.3C1268.8 703.3 1280.9 707.5 1284.8 708.1M1274 703.3C1277.6 705 1289.1 709 1295.4 713.3C1301.6 717.6 1308.5 722.9 1311.5 729.2C1314.5 735.4 1314.3 743.8 1313.3 750.7C1312.2 757.6 1309.5 765.1 1305 770.7C1300.6 776.3 1293.4 781.4 1286.4 784.1C1279.3 786.8 1270.2 788.1 1262.8 787C1255.3 785.9 1247.8 781.8 1241.7 777.7C1235.5 773.5 1229 768.3 1225.8 762.2C1222.5 756 1221.1 747.6 1222.2 740.7C1223.2 733.9 1227.2 726.6 1232 721.2C1236.7 715.8 1243.6 710.9 1250.6 708.4C1257.5 705.8 1269.8 706.3 1273.7 705.8" fill="none" stroke="#1e1e1e" stroke-width="6.2" stroke-linejoin="round" stroke-linecap="round"/>
<ellipse cx="1380.5" cy="745.8" rx="45.6" ry="41.1" fill="#2f9e44"/>
<path d="M1373.5 704C1377.5 704.6 1390 704.9 1397.1 707.6C1404.3 710.3 1411.6 714.8 1416.2 720.1C1420.8 725.5 1423.7 733 1424.8 739.8C1425.9 746.6 1425.5 754.4 1422.9 760.8C1420.4 767.3 1415.4 774.4 1409.5 778.6C1403.5 782.9 1394.9 785.7 1387.3 786.6C1379.7 787.5 1371 786.6 1363.8 784.1C1356.7 781.6 1349.1 777.1 1344.4 771.8C1339.7 766.4 1336.5 758.7 1335.5 751.9C1334.5 745.1 1335.8 737.4 1338.5 730.9C1341.2 724.5 1345.8 717.3 1351.7 713.1C1357.6 708.9 1366.3 706.6 1373.8 705.8C1381.4 705 1393.1 707.7 1397 708.1M1386.2 703.3C1389.8 704.9 1401.9 708.4 1408 712.8C1414 717.2 1419.7 723.4 1422.5 729.7C1425.3 736 1425.6 743.9 1424.6 750.6C1423.5 757.3 1420.5 764.3 1416.2 769.9C1411.9 775.6 1405.6 781.4 1398.7 784.3C1391.8 787.2 1382.6 788.1 1374.9 787.2C1367.3 786.3 1358.8 783.2 1352.9 778.9C1347 774.6 1342.5 767.9 1339.5 761.5C1336.4 755.2 1334 747.6 1334.6 740.8C1335.2 733.9 1338.3 725.9 1342.9 720.3C1347.6 714.7 1355.1 709.4 1362.2 707C1369.4 704.6 1381.9 706 1385.9 705.8" fill="none" stroke="#1e1e1e" stroke-width="6.2" stroke-linejoin="round" stroke-linecap="round"/>
<ellipse cx="1489.4" cy="745.8" rx="45.6" ry="41.1" fill="#2f9e44"/>
<path d="M1482.4 704C1486.4 704.6 1498.8 705.1 1506 707.8C1513.2 710.4 1520.9 714.5 1525.6 719.8C1530.2 725.1 1533 732.9 1534 739.8C1535 746.6 1534.6 754.5 1531.8 760.8C1529.1 767.1 1523.5 773.3 1517.5 777.6C1511.6 781.9 1503.6 785.6 1496.2 786.5C1488.8 787.5 1480.1 785.8 1473 783.3C1466 780.7 1458.6 776.5 1453.9 771.3C1449.1 766.1 1445.7 758.6 1444.7 751.9C1443.7 745.2 1445.1 737.5 1447.8 731.1C1450.5 724.7 1454.8 717.6 1460.6 713.2C1466.4 708.7 1475 705.2 1482.5 704.4C1490 703.5 1502 707.5 1505.9 708.1M1495.1 703.3C1498.7 704.9 1510.8 708.5 1516.8 712.9C1522.9 717.3 1528.1 723.5 1531.2 729.8C1534.2 736.1 1535.7 744 1534.9 750.8C1534.1 757.6 1530.9 765.4 1526.2 770.8C1521.6 776.1 1514.1 780.5 1507 783C1500 785.6 1491.5 786.9 1484 786.2C1476.4 785.5 1468.3 782.6 1462 778.7C1455.7 774.7 1449.4 768.8 1446.2 762.5C1443 756.1 1441.9 747.7 1442.9 740.7C1444 733.7 1447.6 726.1 1452.3 720.6C1457.1 715.2 1464.5 710.6 1471.6 708.1C1478.6 705.6 1490.9 706.2 1494.8 705.8" fill="none" stroke="#1e1e1e" stroke-width="6.2" stroke-linejoin="round" stroke-linecap="round"/>
<polygon points="1301.7,666.5 1293,686.8 1284.4,707.1 1285.5,707.5 1294.2,687.2 1302.8,666.9" fill="#e03131" stroke="#e03131" stroke-width="4.8" stroke-linejoin="round"/>
<text x="303.8" y="762" font-size="46" text-anchor="middle">1</text>
<text x="428.1" y="762" font-size="46" text-anchor="middle">2</text>
<text x="556.3" y="762" font-size="46" text-anchor="middle">3</text>
<text x="668.1" y="762" font-size="46" text-anchor="middle">4</text>
<text x="793.8" y="762" font-size="46" text-anchor="middle">5</text>
<text x="906.3" y="762" font-size="46" text-anchor="middle">6</text>
<text x="1034.4" y="762" font-size="46" text-anchor="middle">7</text>
<text x="1152.5" y="762" font-size="46" text-anchor="middle">8</text>
<text x="1272.2" y="762" font-size="46" text-anchor="middle">9</text>
<text x="1383.8" y="762" font-size="46" text-anchor="middle">10</text>
<text x="1487.5" y="762" font-size="46" text-anchor="middle">11</text>
<text x="642.5" y="197.3" font-size="47.5" text-anchor="start" textLength="112.5" lengthAdjust="spacingAndGlyphs">MMR</text>
<text x="2010.5" y="192.5" font-size="47" text-anchor="start" letter-spacing="5" textLength="88.5" lengthAdjust="spacingAndGlyphs">MT</text>
<text x="1814" y="654.5" font-size="38" text-anchor="start" letter-spacing="2" textLength="90" lengthAdjust="spacingAndGlyphs">xx0x</text>
<text x="2272.5" y="654.5" font-size="38" text-anchor="start" letter-spacing="2" textLength="89" lengthAdjust="spacingAndGlyphs">x0xx</text>
<text x="2646" y="654.5" font-size="38" text-anchor="start" textLength="81" lengthAdjust="spacingAndGlyphs">1xxx</text>
<text x="29" y="904" font-size="47" text-anchor="start" letter-spacing="1" textLength="288" lengthAdjust="spacingAndGlyphs">Update Log:</text>
<text x="424" y="902" font-size="42" text-anchor="start" textLength="268" lengthAdjust="spacingAndGlyphs">&lt;add(foo, 5)&gt;</text>
<text x="824" y="902" font-size="42" text-anchor="start" textLength="195.5" lengthAdjust="spacingAndGlyphs">&lt;del(foo)&gt;</text>
<text x="1155" y="901" font-size="42" text-anchor="start" textLength="254.5" lengthAdjust="spacingAndGlyphs">&lt;add(foo, 6)&gt;</text>
</svg>
</body>
</html>
